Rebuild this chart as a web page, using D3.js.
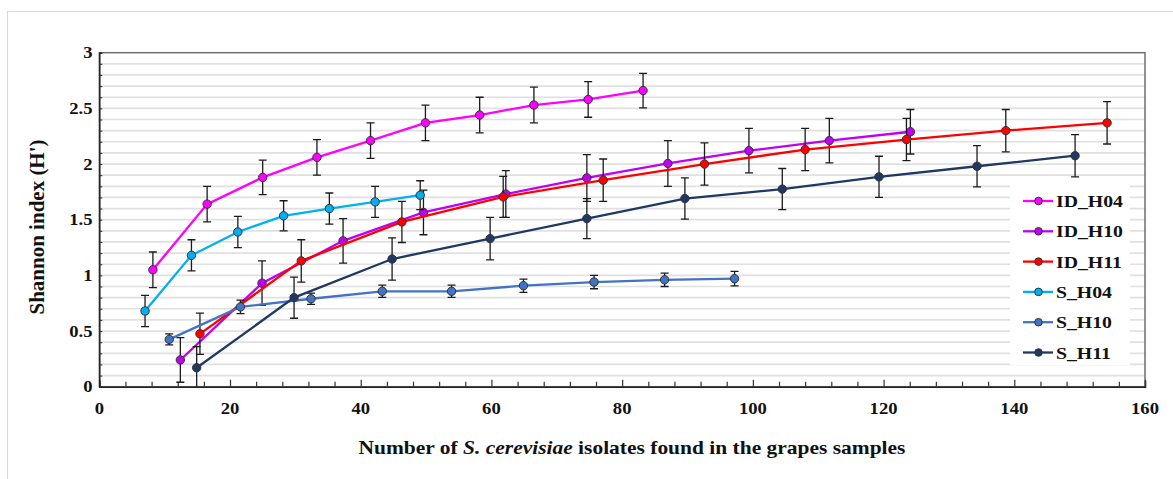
<!DOCTYPE html>
<html>
<head>
<meta charset="utf-8">
<script src="https://cdn.jsdelivr.net/npm/d3@7"></script>
<style>
  body { margin: 0; background: #fff; }
  svg text { font-family: "Liberation Serif", "Times New Roman", serif; font-weight: bold; fill: #111; }
</style>
</head>
<body>
<div id="chart"></div>
<script>
// values (x = isolates, y = H', e = +/- error)
var idH04X = [8.2, 16.5, 25.0, 33.3, 41.5, 49.9, 58.2, 66.5, 74.8, 83.2];
var idH04Y = [1.05, 1.64, 1.88, 2.06, 2.21, 2.37, 2.44, 2.53, 2.58, 2.66];
var idH04E = [0.16, 0.16, 0.155, 0.16, 0.16, 0.16, 0.16, 0.16, 0.16, 0.155];

var idH10X = [12.4, 24.9, 37.3, 49.6, 62.2, 74.6, 87.0, 99.4, 111.7, 124.1];
var idH10Y = [0.24, 0.93, 1.31, 1.565, 1.73, 1.875, 2.005, 2.12, 2.21, 2.29];
var idH10E = [0.2, 0.2, 0.2, 0.2, 0.21, 0.21, 0.205, 0.2, 0.2, 0.2];

var idH11X = [15.4, 30.9, 46.3, 61.8, 77.1, 92.6, 108.0, 123.5, 138.7, 154.2];
var idH11Y = [0.475, 1.13, 1.48, 1.705, 1.855, 2.0, 2.13, 2.22, 2.30, 2.37];
var idH11E = [0.185, 0.19, 0.185, 0.185, 0.19, 0.19, 0.19, 0.19, 0.19, 0.19];

var sH04X = [7.0, 14.1, 21.2, 28.2, 35.2, 42.2, 49.1];
var sH04Y = [0.68, 1.18, 1.39, 1.535, 1.60, 1.66, 1.72];
var sH04E = [0.14, 0.14, 0.14, 0.135, 0.14, 0.14, 0.13];

var sH10X = [10.7, 21.6, 32.4, 43.3, 53.9, 64.9, 75.7, 86.5, 97.2];
var sH10Y = [0.425, 0.717, 0.79, 0.857, 0.857, 0.907, 0.94, 0.96, 0.97];
var sH10E = [0.05, 0.06, 0.05, 0.055, 0.055, 0.06, 0.06, 0.06, 0.065];

var sH11X = [14.9, 29.8, 44.8, 59.8, 74.6, 89.6, 104.5, 119.3, 134.3, 149.3];
var sH11Y = [0.17, 0.80, 1.147, 1.33, 1.51, 1.69, 1.775, 1.885, 1.98, 2.075];
var sH11E = [0.19, 0.185, 0.19, 0.19, 0.18, 0.185, 0.185, 0.185, 0.185, 0.19];

var seriesNames = ["ID_H04", "ID_H10", "ID_H11", "S_H04", "S_H10", "S_H11"];
var seriesColors = ["#ff00ff", "#c000f0", "#ff0000", "#00b0f0", "#4472c4", "#1f3864"];
var xTickLabels = [0, 20, 40, 60, 80, 100, 120, 140, 160];
var yTickLabels = [0, 0.5, 1, 1.5, 2, 2.5, 3];

var seriesX = [idH04X, idH10X, idH11X, sH04X, sH10X, sH11X];
var seriesY = [idH04Y, idH10Y, idH11Y, sH04Y, sH10Y, sH11Y];
var seriesE = [idH04E, idH10E, idH11E, sH04E, sH10E, sH11E];

var W = 1173, H = 479;
var PLOT = { left: 99.3, right: 1145, top: 52.7, bottom: 386.7 };
// the original's lettering is a little wider than Times, so stretch it
var STRETCH = 1.13;

var x = d3.scaleLinear().domain([0, 160]).range([PLOT.left, PLOT.right]);
var y = d3.scaleLinear().domain([0, 3]).range([PLOT.bottom, PLOT.top]);

var svg = d3.select("#chart").append("svg")
    .attr("width", W)
    .attr("height", H);

// text placed at (px,py) and widened around its anchor
function wideText(parent, px, py, anchor, size) {
    return parent.append("g")
        .attr("transform", "translate(" + px + "," + py + ")")
        .append("text")
        .attr("transform", "scale(" + STRETCH + ",1)")
        .attr("text-anchor", anchor)
        .style("font-size", size + "px");
}

// outer figure frame (only left/top visible in the original)
svg.append("path")
    .attr("d", "M7.5 " + H + " L7.5 11.5 L" + W + " 11.5")
    .attr("fill", "none")
    .attr("stroke", "#d9d9d9")
    .attr("stroke-width", 1.2);

// gridlines every 0.1
var gridVals = d3.range(1, 30).map(function(d){ return d / 10; });
svg.append("g").selectAll("line").data(gridVals).enter().append("line")
    .attr("x1", PLOT.left).attr("x2", PLOT.right)
    .attr("y1", function(d){ return y(d); })
    .attr("y2", function(d){ return y(d); })
    .attr("stroke", "#e0e0e0")
    .attr("stroke-width", 1.7);

// plot frame
svg.append("rect")
    .attr("x", PLOT.left).attr("y", PLOT.top)
    .attr("width", PLOT.right - PLOT.left)
    .attr("height", PLOT.bottom - PLOT.top)
    .attr("fill", "none")
    .attr("stroke", "#6e6e6e")
    .attr("stroke-width", 1.5);

// x axis: ticks inside, minor every 4
var xAxis = d3.axisTop(x)
    .tickValues(d3.range(0, 161, 4))
    .tickSize(6)
    .tickFormat("");
svg.append("g")
    .attr("transform", "translate(0," + PLOT.bottom + ")")
    .call(xAxis)
    .call(function(g){
        g.select(".domain").attr("stroke", "#222").attr("stroke-width", 1.5);
        g.selectAll(".tick line").attr("stroke", "#333").attr("stroke-width", 1.2)
            .attr("y2", function(d){ return d % 20 == 0 ? -7 : -5; });
    });

xTickLabels.forEach(function(d){
    wideText(svg, x(d), 414, "middle", 16.5).text(d);
});

// y axis: ticks inside, every 0.1
var yAxis = d3.axisRight(y)
    .tickValues(d3.range(0, 31).map(function(d){ return d / 10; }))
    .tickSize(3)
    .tickFormat("");
svg.append("g")
    .attr("transform", "translate(" + PLOT.left + ",0)")
    .call(yAxis)
    .call(function(g){
        g.select(".domain").attr("stroke", "#222").attr("stroke-width", 1.5);
        g.selectAll(".tick line").attr("stroke", "#333").attr("stroke-width", 1.1);
    });

yTickLabels.forEach(function(d){
    wideText(svg, 92.5, y(d) + 5.5, "end", 16.5).text(d);
});

// axis titles
var xTitle = wideText(svg, 632, 454, "middle", 19);
xTitle.append("tspan").text("Number of ");
xTitle.append("tspan").style("font-style", "italic").text("S. cerevisiae");
xTitle.append("tspan").text(" isolates found in the grapes samples");

svg.append("text")
    .attr("transform", "translate(44,227) rotate(-90)")
    .attr("text-anchor", "middle")
    .style("font-size", "21px")
    .text("Shannon index (H')");

// clip marks to the plot area
svg.append("clipPath").attr("id", "plotClip")
    .append("rect")
    .attr("x", PLOT.left).attr("y", PLOT.top)
    .attr("width", PLOT.right - PLOT.left)
    .attr("height", PLOT.bottom - PLOT.top);

var marks = svg.append("g").attr("clip-path", "url(#plotClip)");

var line = d3.line()
    .x(function(d){ return x(d[0]); })
    .y(function(d){ return y(d[1]); });

seriesNames.forEach(function(name, s) {
    var pts = seriesX[s].map(function(v, i){ return [v, seriesY[s][i], seriesE[s][i]]; });
    var g = marks.append("g").attr("class", "series");

    g.append("path")
        .datum(pts)
        .attr("d", line)
        .attr("fill", "none")
        .attr("stroke", seriesColors[s])
        .attr("stroke-width", 2.3);

    // error bars
    var eb = g.selectAll(".err").data(pts).enter().append("g").attr("class", "err")
        .attr("stroke", "#1a1a1a")
        .attr("stroke-width", 1.3);
    eb.append("line")
        .attr("x1", function(d){ return x(d[0]); })
        .attr("x2", function(d){ return x(d[0]); })
        .attr("y1", function(d){ return y(d[1] + d[2]); })
        .attr("y2", function(d){ return y(d[1] - d[2]); });
    eb.append("line")
        .attr("x1", function(d){ return x(d[0]) - 4; })
        .attr("x2", function(d){ return x(d[0]) + 4; })
        .attr("y1", function(d){ return y(d[1] + d[2]); })
        .attr("y2", function(d){ return y(d[1] + d[2]); });
    eb.append("line")
        .attr("x1", function(d){ return x(d[0]) - 4; })
        .attr("x2", function(d){ return x(d[0]) + 4; })
        .attr("y1", function(d){ return y(d[1] - d[2]); })
        .attr("y2", function(d){ return y(d[1] - d[2]); });

    g.selectAll("circle").data(pts).enter().append("circle")
        .attr("cx", function(d){ return x(d[0]); })
        .attr("cy", function(d){ return y(d[1]); })
        .attr("r", 4.2)
        .attr("fill", seriesColors[s])
        .attr("stroke", "#333")
        .attr("stroke-width", 1);
});

// legend
var legend = svg.append("g");
legend.append("rect")
    .attr("x", 1010).attr("y", 183)
    .attr("width", 120).attr("height", 182)
    .attr("fill", "#fff");

var items = legend.selectAll(".item").data(seriesNames).enter().append("g")
    .attr("class", "item")
    .attr("transform", function(d, i){ return "translate(0," + (201 + i * 30.3) + ")"; });
items.append("line")
    .attr("x1", 1023).attr("x2", 1053)
    .attr("stroke", function(d, i){ return seriesColors[i]; })
    .attr("stroke-width", 2.3);
items.append("circle")
    .attr("cx", 1038.5).attr("r", 3.8)
    .attr("fill", function(d, i){ return seriesColors[i]; })
    .attr("stroke", "#333")
    .attr("stroke-width", 1);
items.each(function(d){
    wideText(d3.select(this), 1056, 6, "start", 17.5).text(d);
});
</script>
</body>
</html>
